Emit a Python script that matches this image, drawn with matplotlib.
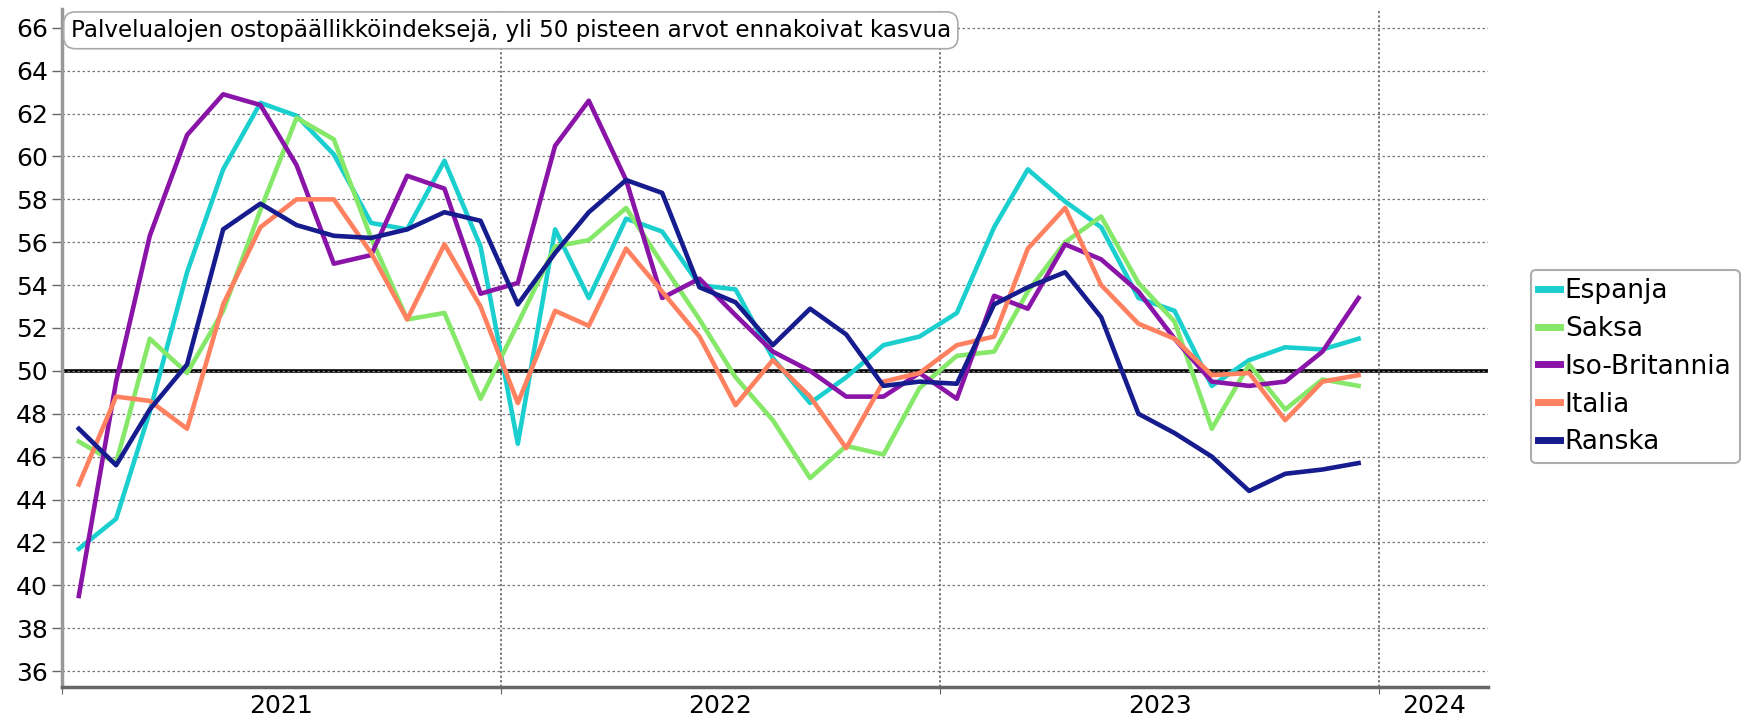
import numpy as np
import pandas as pd
import matplotlib
matplotlib.use("Agg")
import matplotlib.pyplot as plt

# kuukausittaiset arvot tammikuu 2021 - joulukuu 2023
months = pd.date_range("2021-01-01", periods=36, freq="MS") + pd.Timedelta(days=14)

espanja = [41.7, 43.1, 48.1, 54.6, 59.4, 62.5, 61.9, 60.1, 56.9, 56.6, 59.8, 55.8,
           46.6, 56.6, 53.4, 57.1, 56.5, 54.0, 53.8, 50.6, 48.5, 49.7, 51.2, 51.6,
           52.7, 56.7, 59.4, 57.9, 56.7, 53.4, 52.8, 49.3, 50.5, 51.1, 51.0, 51.5]
saksa = [46.7, 45.7, 51.5, 49.9, 52.8, 57.5, 61.8, 60.8, 56.2, 52.4, 52.7, 48.7,
         52.2, 55.8, 56.1, 57.6, 55.0, 52.4, 49.7, 47.7, 45.0, 46.5, 46.1, 49.2,
         50.7, 50.9, 53.7, 56.0, 57.2, 54.1, 52.3, 47.3, 50.3, 48.2, 49.6, 49.3]
iso_britannia = [39.5, 49.5, 56.3, 61.0, 62.9, 62.4, 59.6, 55.0, 55.4, 59.1, 58.5, 53.6,
                 54.1, 60.5, 62.6, 58.9, 53.4, 54.3, 52.6, 50.9, 50.0, 48.8, 48.8, 49.9,
                 48.7, 53.5, 52.9, 55.9, 55.2, 53.7, 51.5, 49.5, 49.3, 49.5, 50.9, 53.4]
italia = [44.7, 48.8, 48.6, 47.3, 53.1, 56.7, 58.0, 58.0, 55.5, 52.4, 55.9, 53.0,
          48.5, 52.8, 52.1, 55.7, 53.7, 51.6, 48.4, 50.5, 48.8, 46.4, 49.5, 49.9,
          51.2, 51.6, 55.7, 57.6, 54.0, 52.2, 51.5, 49.8, 49.9, 47.7, 49.5, 49.8]
ranska = [47.3, 45.6, 48.2, 50.3, 56.6, 57.8, 56.8, 56.3, 56.2, 56.6, 57.4, 57.0,
          53.1, 55.5, 57.4, 58.9, 58.3, 53.9, 53.2, 51.2, 52.9, 51.7, 49.3, 49.5,
          49.4, 53.1, 53.9, 54.6, 52.5, 48.0, 47.1, 46.0, 44.4, 45.2, 45.4, 45.7]

series = [
    ("Espanja", espanja, "#1bcfcf"),
    ("Saksa", saksa, "#86e868"),
    ("Iso-Britannia", iso_britannia, "#8a14a8"),
    ("Italia", italia, "#ff8160"),
    ("Ranska", ranska, "#161c8e"),
]

plt.rcParams["font.family"] = ["DejaVu Sans"]

fig = plt.figure(figsize=(17.46, 7.22), dpi=100)
ax = fig.add_axes([0.0355, 0.048, 0.8170, 0.939])

for name, vals, col in series:
    ax.plot(months, vals, color=col, lw=3.3, label=name)

ax.axhline(50, color="black", lw=2.6, zorder=1.5)

start = pd.Timestamp("2021-01-01")
end = pd.Timestamp("2024-04-01")
ax.set_xlim(start, end)
ax.set_ylim(35.24, 66.86)

ax.set_yticks(np.arange(36, 67, 2))
ax.tick_params(axis="y", labelsize=18, length=7, width=1, color="#666666", pad=3)

# vuosirajat ja vuosiotsikot näkyvän jakson keskelle
years = [pd.Timestamp(f"{y}-01-01") for y in (2021, 2022, 2023, 2024)]
bounds = years + [end]
ax.set_xticks(years)
ax.set_xticklabels([])
centers = [a + (b - a) / 2 for a, b in zip(bounds[:-1], bounds[1:])]
ax.set_xticks(centers, minor=True)
ax.set_xticklabels([str(y.year) for y in years], minor=True)
ax.tick_params(axis="x", which="major", length=5, color="#666666")
ax.tick_params(axis="x", which="minor", length=0, labelsize=18, pad=5)

ax.grid(axis="y", which="major", linestyle=(0, (2, 2)), color="#777777", lw=0.9)
ax.grid(axis="x", which="major", linestyle=(0, (1.5, 1.5)), color="#555555", lw=1.1)

for s in ("top", "right"):
    ax.spines[s].set_visible(False)
ax.spines["left"].set_color("#999999")
ax.spines["left"].set_linewidth(2.5)
ax.spines["bottom"].set_color("#666666")
ax.spines["bottom"].set_linewidth(2.5)

leg = ax.legend(loc="center left", bbox_to_anchor=(1.0295, 0.473), fontsize=19,
                frameon=True, fancybox=True, handlelength=0.8, handletextpad=0.2,
                labelspacing=0.45, borderpad=0.3, borderaxespad=0)
leg.get_frame().set_edgecolor("#999999")
leg.get_frame().set_linewidth(1.5)
for h in leg.get_lines():
    h.set_linewidth(5)

fig.text(0.0405, 0.958, "Palvelualojen ostopäällikköindeksejä, yli 50 pisteen arvot ennakoivat kasvua",
         fontsize=16.6, va="center", ha="left",
         bbox=dict(boxstyle="round,pad=0.3,rounding_size=0.5", fc="white", ec="#aaaaaa", lw=1.2))

fig.savefig("out.png", dpi=100)
